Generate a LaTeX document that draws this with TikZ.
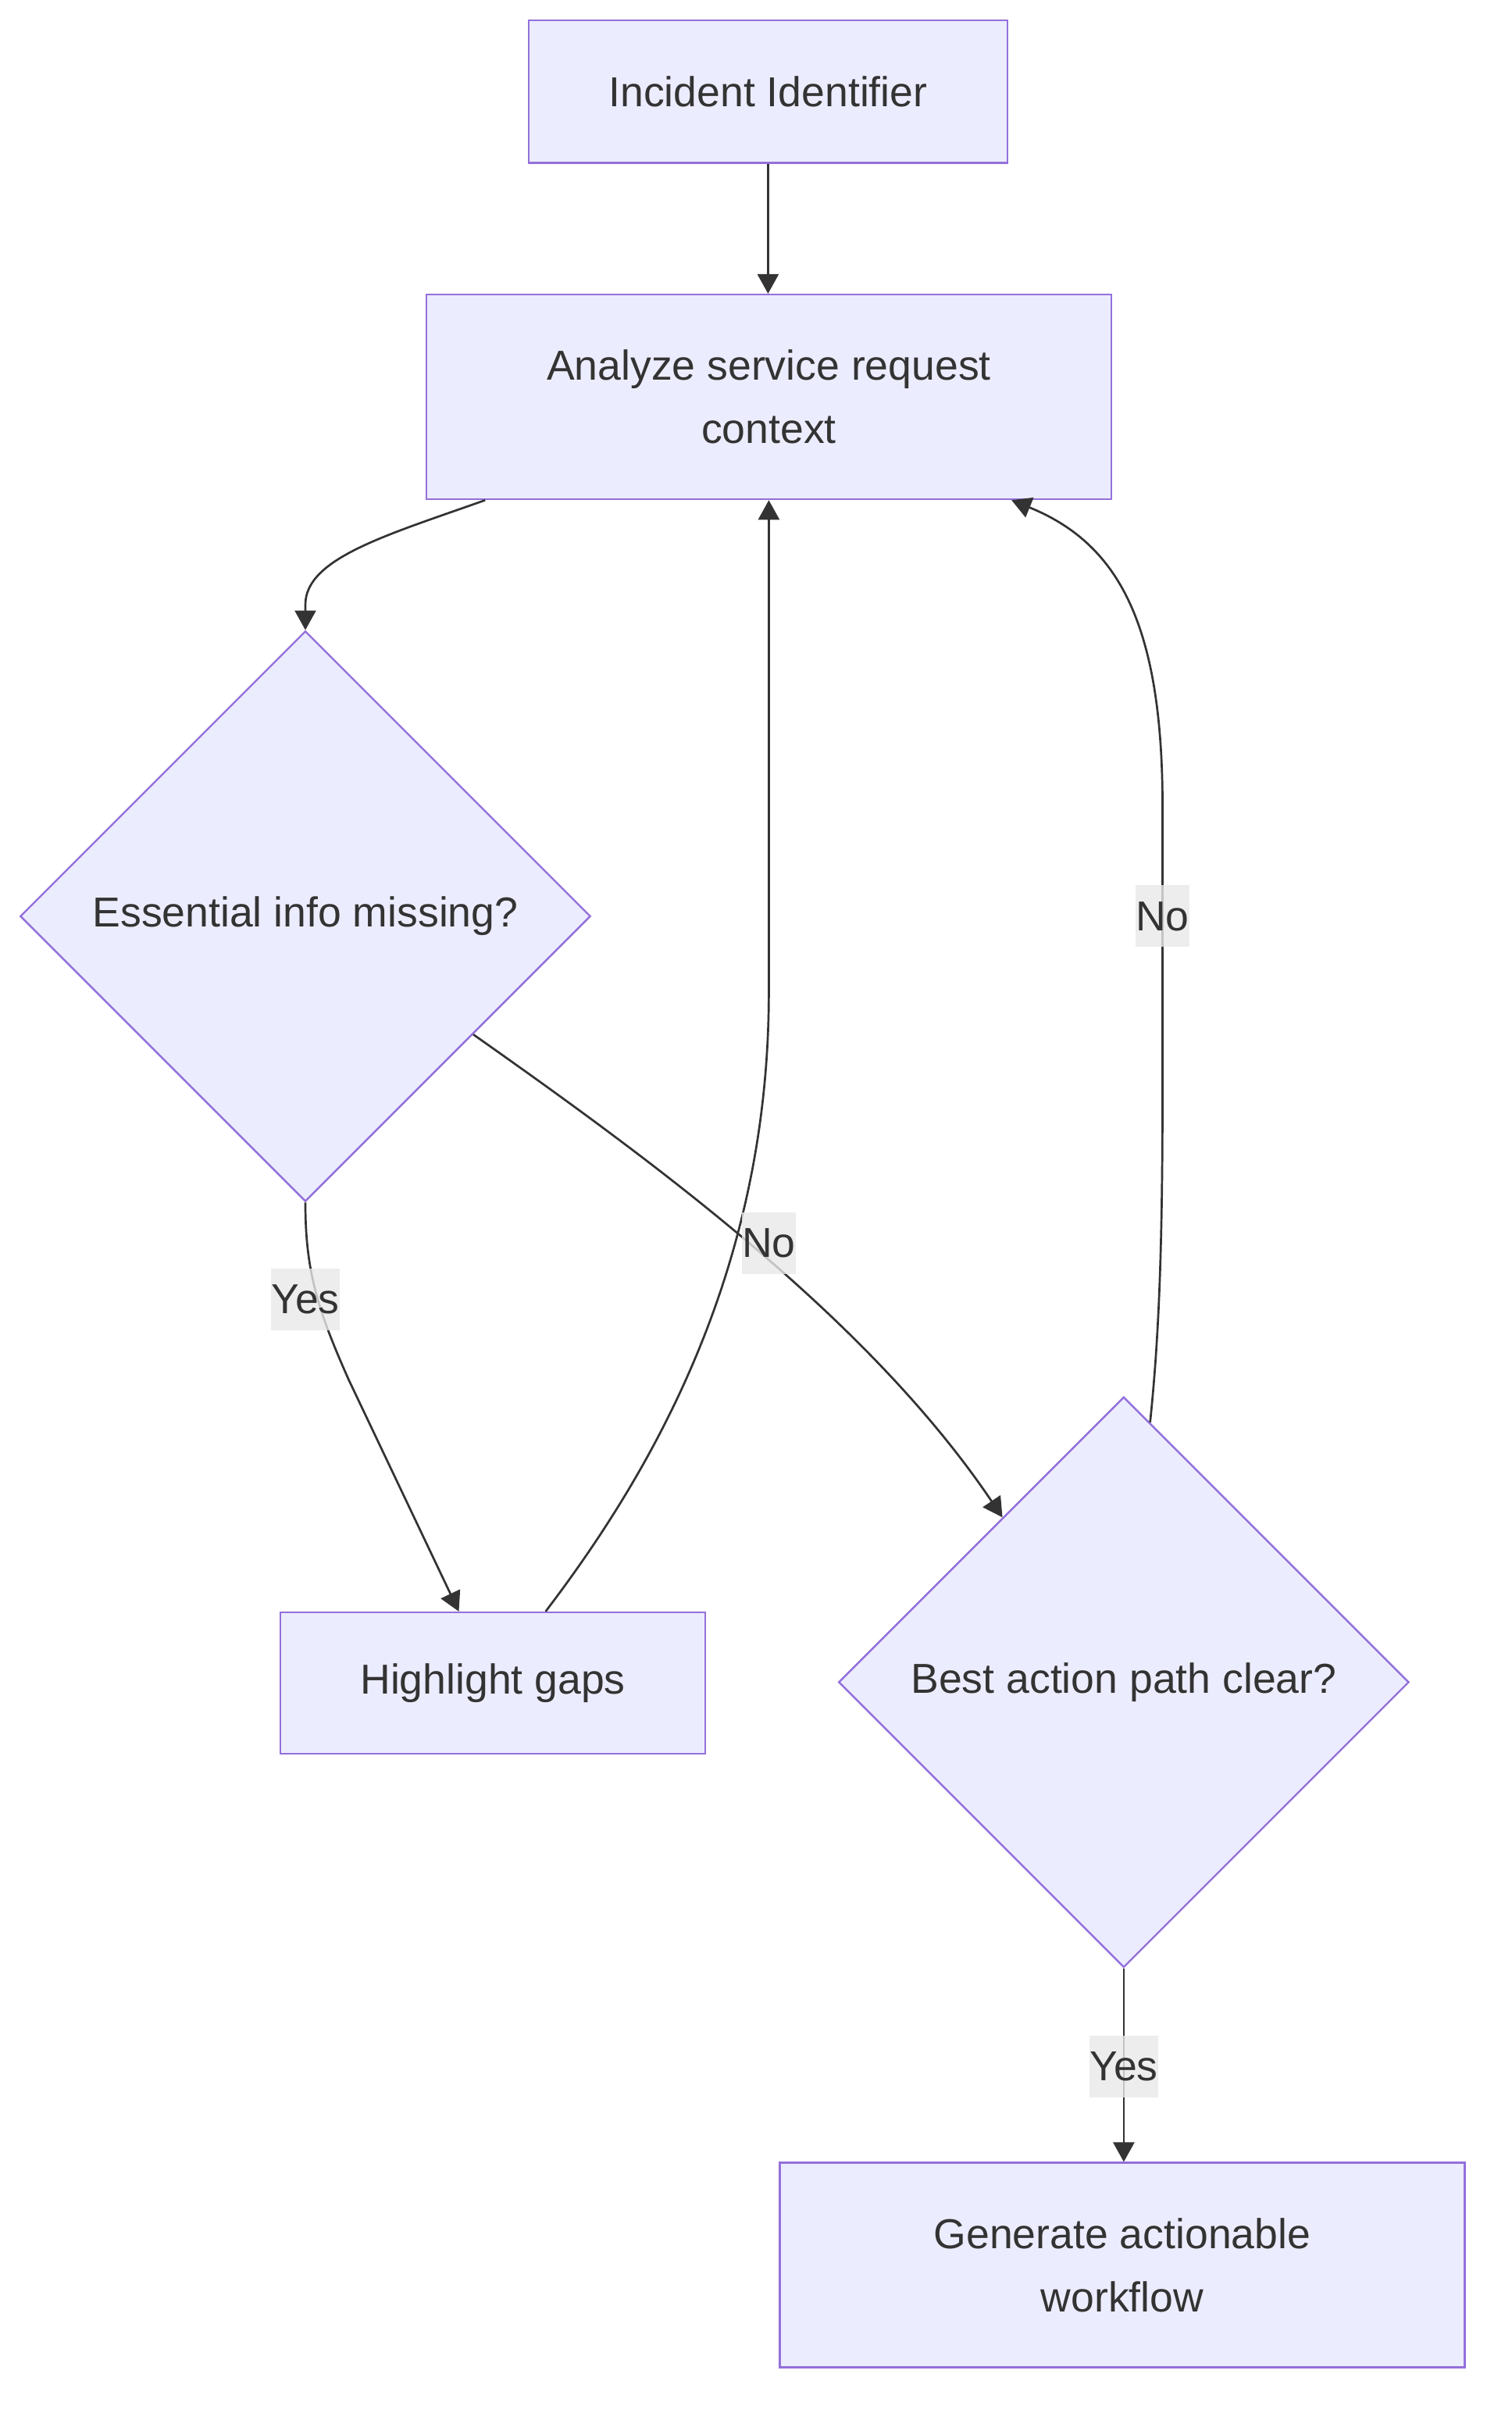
\documentclass[tikz,border=0pt]{standalone}
\usepackage{fontspec}
\setmainfont{Liberation Sans}
\usetikzlibrary{shapes.geometric,arrows.meta,calc}
\definecolor{nodefill}{HTML}{ECECFF}
\definecolor{nodeline}{HTML}{9370DB}
\definecolor{ink}{HTML}{333333}
\definecolor{labelbg}{HTML}{E8E8E8}
\tikzset{
	box/.style={draw=nodeline, fill=nodefill, line width=2.4pt, inner sep=0pt, align=center, text=ink},
	decision/.style={diamond, draw=nodeline, fill=nodefill, line width=2.4pt, inner sep=0pt,
		minimum width=730.7pt, minimum height=730.7pt, text=ink},
	edge/.style={draw=ink, line width=2.7pt, -{Triangle[length=25pt,width=27pt]}},
	lbl/.style={fill=labelbg, fill opacity=0.8, text opacity=1, text=ink,
		inner xsep=0pt, inner ysep=0pt, minimum height=79pt},
}
\begin{document}
\begin{tikzpicture}[x=1.9856pt, y=-1.9856pt, font=\fontsize{53.6}{81}\selectfont]
	\useasboundingbox (0,0) rectangle (975,1568);
	% nodes
	\node [box, minimum width=613.5pt, minimum height=182.7pt] (incident) at (495.5,59) {Incident Identifier};
	\node [box, minimum width=877.6pt, minimum height=262.1pt] (analyze) at (496,256) {Analyze service request\\context};
	\node [decision] (missing) at (197,591) {Essential info missing?};
	\node [box, minimum width=544.1pt, minimum height=180.7pt] (gaps) at (318,1085.5) {Highlight gaps};
	\node [decision] (clear) at (725,1085) {Best action path clear?};
	\node [box, minimum width=877.6pt, minimum height=262.1pt] (workflow) at (724,1461) {Generate actionable\\workflow};
	% connectors
	\draw [edge] (incident.south) -- (incident.south |- analyze.north);
	\draw [edge] ($(analyze.south)+(-183,0)$) .. controls (250,345) and (197,360) .. (197,390) -- (missing.north);
	\draw [edge] (missing.south) .. controls (197,820) and (205,845) .. (225,890) -- ($(gaps.north)+(-22,0)$);
	\draw [edge] ($(missing.east)!0.413!(missing.south)$) .. controls (420,748) and (560,850) .. ($(clear.west)!0.576!(clear.north)$);
	\draw [edge] ($(gaps.north)+(34,0)$) .. controls (420,950) and (496,820) .. (496,640) -- (analyze.south);
	\draw [edge] ($(clear.north)!0.092!(clear.east)$) .. controls (748,860) and (750,800) .. (750,700) -- (750,520)
		.. controls (750,400) and (720,350) .. ($(analyze.south east)+(-65,0)$);
	\draw [edge] (clear.south) -- (clear.south |- workflow.north);
	% edge labels
	\node [lbl] (yesgaps) at (197,838) {Yes};
	\node [lbl] (noclear) at (496,802) {No};
	\node [lbl] (noback) at (750,591) {No};
	\node [lbl] (yesflow) at (725,1333) {Yes};
\end{tikzpicture}
\end{document}
